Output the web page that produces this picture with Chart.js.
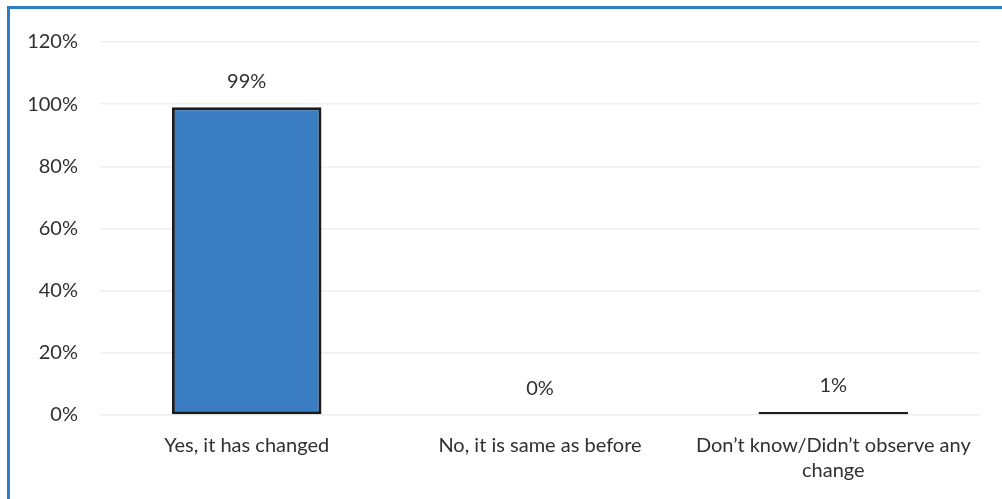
<!DOCTYPE html>
<html>
<head>
<meta charset="utf-8">
<script src="https://cdn.jsdelivr.net/npm/chart.js@4.4.1/dist/chart.umd.min.js"></script>
<style>
  html, body { margin: 0; padding: 0; background: #fff; }
  #wrap { position: relative; width: 1002px; height: 499px; overflow: hidden; }
  #frame { position: absolute; left: 7px; top: 6px; width: 1100px; height: 600px;
           border-top: 3px solid #2e7dc6; border-left: 3px solid #2e7dc6; }
  #myCanvas { position: absolute; left: 0; top: 0; }
</style>
</head>
<body>
<div id="wrap">
  <div id="frame"></div>
  <canvas id="myCanvas" width="1002" height="499"></canvas>
</div>
<script>
const categories = [
    'Yes, it has changed',
    'No, it is same as before',
    ['Don\u2019t know/Didn\u2019t observe any', 'change']
];
const values = [99, 0, 1];
const valueLabels = ['99%', '0%', '1%'];
const yTicks = [0, 20, 40, 60, 80, 100, 120];

const textColor = '#303030';
const fontFamily = 'Lato, "Open Sans", sans-serif';

// draws the % figures above every bar
const barLabels = {
    id: 'barLabels',
    afterDatasetsDraw(chart) {
        const ctx = chart.ctx;
        const meta = chart.getDatasetMeta(0);
        ctx.save();
        ctx.fillStyle = textColor;
        ctx.font = '20px ' + fontFamily;
        ctx.textAlign = 'center';
        ctx.textBaseline = 'middle';
        meta.data.forEach((bar, i) => {
            ctx.fillText(valueLabels[i], bar.x, bar.y - 26);
        });
        ctx.restore();
    }
};

function init() {
    const ctx = document.getElementById('myCanvas').getContext('2d');
    const myChart = new Chart(ctx, {
        type: 'bar',
        data: {
            labels: categories,
            datasets: [{
                data: values,
                backgroundColor: '#3a7dc3',
                borderColor: '#1c1c1c',
                borderWidth: 3,
                borderSkipped: false,
                categoryPercentage: 1,
                barPercentage: 0.51
            }]
        },
        options: {
            responsive: false,
            animation: false,
            layout: { padding: { top: 42, right: 22, left: 0, bottom: 0 } },
            plugins: {
                legend: { display: false },
                tooltip: { enabled: false }
            },
            scales: {
                x: {
                    grid: { display: false, drawTicks: false },
                    border: { display: false },
                    ticks: {
                        color: textColor,
                        font: { family: fontFamily, size: 20, lineHeight: 1.25 },
                        padding: 18,
                        maxRotation: 0,
                        autoSkip: false
                    },
                    afterFit(scale) { scale.height = 84; }
                },
                y: {
                    min: 0,
                    max: 120,
                    afterBuildTicks(scale) {
                        scale.ticks = yTicks.map(v => ({ value: v }));
                    },
                    grid: { color: '#eeeeee', lineWidth: 1.5, drawTicks: false },
                    border: { display: false },
                    ticks: {
                        color: textColor,
                        font: { family: fontFamily, size: 20 },
                        padding: 22,
                        callback: v => v + '%'
                    },
                    afterFit(scale) { scale.width = 100; }
                }
            }
        },
        plugins: [barLabels]
    });
}

document.addEventListener('DOMContentLoaded', init);
</script>
</body>
</html>
